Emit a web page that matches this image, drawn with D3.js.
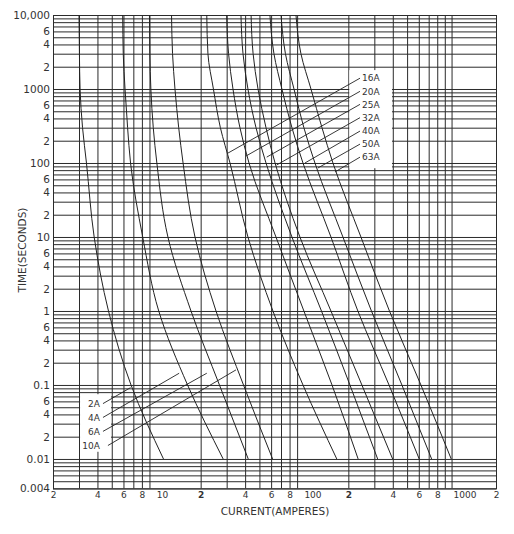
<!DOCTYPE html>
<html>
<head>
<meta charset="utf-8">
<script src="https://cdn.jsdelivr.net/npm/d3@7"></script>
<style>
  body { margin: 0; background: #fff; }
  text { font-family: "DejaVu Sans", sans-serif; fill: #333; }
</style>
</head>
<body>
<div id="chart"></div>
<script>
// time points (s) shared by every curve, currents (A)
const times = [10000, 3000, 1000, 300, 100, 10, 1, 0.1, 0.01];

const amps2A  = [3.0, 3.02, 3.05, 3.17, 3.37, 3.8, 4.75, 6.75, 11.2];
const amps4A  = [5.93, 5.98, 6.15, 6.4, 6.7, 8.1, 10.4, 16.3, 28.4];
const amps6A  = [9.0, 9.05, 9.2, 9.55, 10.1, 12.0, 17.2, 26.8, 42];
const amps10A = [12.7, 12.9, 13.4, 14.2, 15.2, 18.3, 25.4, 39, 61.4];
const amps16A = [22, 22.4, 24.4, 27.2, 31.6, 41.8, 61.7, 98.6, 167];
const amps20A = [30, 30.9, 33.1, 36.9, 42.5, 64.7, 100, 155, 233];
const amps25A = [37.5, 38.7, 41.8, 47.4, 55.4, 83, 131.5, 205, 316];
const amps32A = [43.9, 45.3, 48.9, 55.4, 63.8, 94, 152.5, 247, 399];
const amps40A = [58.9, 62.7, 71, 83, 98.6, 152.5, 232, 377, 604];
const amps50A = [70, 75, 85.7, 100, 118.8, 183.8, 286.7, 461, 733];
const amps63A = [88.4, 95.5, 111.7, 132.6, 157.3, 243.4, 379.7, 620, 995];

// annotation labels, anchors in data units (current A, time s)
const leftLabels = ["2A", "4A", "6A", "10A"];
const leftLabelTimes = [0.056, 0.0364, 0.0236, 0.0152];
const leftLeaderStart = [4.36, 4.36, 4.36, 4.71];
const leftLeaderEnds = [[6.7, 0.092], [14.3, 0.144], [22, 0.144], [34.7, 0.16]];

const rightLabels = ["16A", "20A", "25A", "32A", "40A", "50A", "63A"];
const rightLabelTimes = [1400, 930, 620, 410, 270, 180, 120];
const rightLeaderEnds = [[30.6, 136], [40.5, 124], [56, 120], [65.4, 94], [101.7, 100], [124.5, 85.6], [162.4, 75.6]];

const xTickValues = [2, 4, 6, 8, 10, 20, 40, 60, 80, 100, 200, 400, 600, 800, 1000, 2000];
const xTickLabels = ["2", "4", "6", "8", "10", "2", "4", "6", "8", "100", "2", "4", "6", "8", "1000", "2"];

const yTickValues = [10000, 6000, 4000, 2000, 1000, 600, 400, 200, 100, 60, 40, 20, 10, 6, 4, 2,
                     1, 0.6, 0.4, 0.2, 0.1, 0.06, 0.04, 0.02, 0.01, 0.004];
const yTickLabels = ["10,000", "6", "4", "2", "1000", "6", "4", "2", "100", "6", "4", "2", "10", "6", "4", "2",
                     "1", "6", "4", "2", "0.1", "6", "4", "2", "0.01", "0.004"];


function createChart(container, {width, height}) {

  const margin = {top: 15, right: 18, bottom: 45.6, left: 53};
  const pw = width - margin.left - margin.right;
  const ph = height - margin.top - margin.bottom;

  const svg = d3.select(container)
    .append("svg")
      .attr("width", width)
      .attr("height", height)
    .append("g")
      .attr("transform", `translate(${margin.left}, ${margin.top})`);

  const x = d3.scaleLog().domain([2, 2000]).range([0, pw]);
  const y = d3.scaleLog().domain([0.004, 10000]).range([ph, 0]);

  // log grid: every 1..9 in each decade
  const xGrid = [];
  [1, 10, 100].forEach(p => d3.range(2, 10).forEach(m => xGrid.push(m * p)));
  xGrid.push(1000, 2000);
  const yGrid = [];
  d3.range(-3, 4).forEach(k => d3.range(1, 10).forEach(m => {
    const v = +(m * Math.pow(10, k)).toPrecision(3);
    if (v >= 0.004 && v <= 10000) yGrid.push(v);
  }));

  const gx = svg.append("g")
    .attr("transform", `translate(0, ${ph})`)
    .call(d3.axisBottom(x).tickValues(xGrid).tickSize(-ph).tickFormat(""));
  const gy = svg.append("g")
    .call(d3.axisLeft(y).tickValues(yGrid).tickSize(-pw).tickFormat(""));
  [gx, gy].forEach(g => {
    g.select(".domain").remove();
    g.selectAll("line").attr("stroke", "#2b2b2b").attr("stroke-width", 1);
  });

  svg.append("rect")
    .attr("x", 0.5).attr("y", 0.5)
    .attr("width", pw).attr("height", ph)
    .attr("fill", "none")
    .attr("stroke", "#2b2b2b");

  // blank panels behind the labels
  const boxes = [[[3.05, 4.94], [0.0125, 0.075]], [[203, 395], [85, 1800]]];
  svg.selectAll("rect.box")
    .data(boxes)
    .join("rect")
      .attr("class", "box")
      .attr("x", d => x(d[0][0]))
      .attr("y", d => y(d[1][1]))
      .attr("width", d => x(d[0][1]) - x(d[0][0]))
      .attr("height", d => y(d[1][0]) - y(d[1][1]))
      .attr("fill", "#fff");

  const series = [amps2A, amps4A, amps6A, amps10A, amps16A, amps20A,
                  amps25A, amps32A, amps40A, amps50A, amps63A];

  const line = d3.line()
    .x(d => x(d[0]))
    .y(d => y(d[1]))
    .curve(d3.curveMonotoneY);

  svg.selectAll("path.curve")
    .data(series)
    .join("path")
      .attr("class", "curve")
      .attr("d", s => line(s.map((a, i) => [a, times[i]])))
      .attr("fill", "none")
      .attr("stroke", "#222")
      .attr("stroke-width", 1);

  // left group labels
  leftLabels.forEach((lab, i) => {
    svg.append("line")
      .attr("x1", x(leftLeaderStart[i])).attr("y1", y(leftLabelTimes[i]))
      .attr("x2", x(leftLeaderEnds[i][0])).attr("y2", y(leftLeaderEnds[i][1]))
      .attr("stroke", "#222").attr("stroke-width", 0.9);
    svg.append("text")
      .attr("x", x(4.16))
      .attr("y", y(leftLabelTimes[i]))
      .attr("dy", "0.36em")
      .attr("text-anchor", "end")
      .style("font-size", "9px")
      .text(lab);
  });

  // right group labels
  rightLabels.forEach((lab, i) => {
    svg.append("line")
      .attr("x1", x(240)).attr("y1", y(rightLabelTimes[i]))
      .attr("x2", x(rightLeaderEnds[i][0])).attr("y2", y(rightLeaderEnds[i][1]))
      .attr("stroke", "#222").attr("stroke-width", 0.9);
    svg.append("text")
      .attr("x", x(240) + 2)
      .attr("y", y(rightLabelTimes[i]))
      .attr("dy", "0.36em")
      .style("font-size", "9px")
      .text(lab);
  });

  // tick labels
  const ax = svg.append("g")
    .attr("transform", `translate(0, ${ph})`)
    .call(d3.axisBottom(x).tickValues(xTickValues).tickSize(0).tickPadding(3.5)
      .tickFormat((d, i) => xTickLabels[i]));
  ax.select(".domain").remove();
  ax.selectAll("text")
    .style("font-size", "9px")
    .style("font-family", "DejaVu Sans")
    .attr("fill", "#333")
    .filter(d => d === 10 || d === 100 || d === 1000)
      .attr("text-anchor", "start")
      .attr("dx", d => d === 1000 ? 1.5 : 0);
  ax.selectAll("text")
    .filter(d => d === 20 || d === 200)
      .style("font-weight", "bold");

  const ay = svg.append("g")
    .call(d3.axisLeft(y).tickValues(yTickValues).tickSize(0).tickPadding(3)
      .tickFormat((d, i) => yTickLabels[i]));
  ay.select(".domain").remove();
  ay.selectAll("text")
    .style("font-size", "10.5px")
    .style("font-family", "DejaVu Sans")
    .attr("fill", "#333");

  svg.append("text")
    .attr("x", pw / 2 + 0.5)
    .attr("y", ph + 27)
    .style("text-anchor", "middle")
    .style("font-size", "10.5px")
    .text("CURRENT(AMPERES)");

  svg.append("text")
    .attr("transform", `translate(${26.3 - margin.left}, ${250 - margin.top}) rotate(-90)`)
    .style("text-anchor", "middle")
    .style("font-size", "10.5px")
    .text("TIME(SECONDS)");

  return svg;
}

createChart(document.getElementById("chart"), {width: 514, height: 534});
</script>
</body>
</html>
